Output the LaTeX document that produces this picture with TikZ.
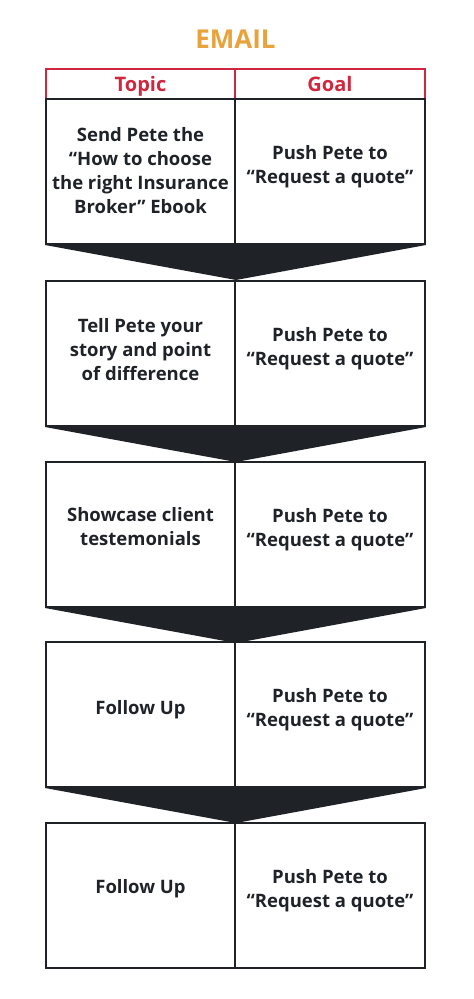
\documentclass[tikz,border=0pt]{standalone}
\usepackage{fontspec}
\setmainfont{Open Sans}
\usetikzlibrary{calc}
\definecolor{mailorange}{HTML}{E8A33D}
\definecolor{headred}{HTML}{D0273E}
\definecolor{inkdark}{HTML}{1F2328}
\tikzset{
  title/.style={font=\fontsize{26}{30}\selectfont\bfseries,text=mailorange},
  head/.style={draw=headred,line width=2pt,text=headred,minimum height=30pt,
    font=\fontsize{20}{24}\selectfont\bfseries,inner sep=0pt,text depth=0pt},
  cell/.style={draw=inkdark,line width=2pt,minimum height=145pt,inner sep=0pt},
  txt/.style={text=inkdark,align=center,inner sep=0pt,
    font=\fontsize{18.5}{24}\selectfont\bfseries},
  funnel/.style={fill=inkdark},
}
\newcommand{\funnel}[2]{% left cell, right cell
  \fill[funnel] (#1.south west) -- (#2.south east) -- ($(#1.south east)+(0,35)$) -- cycle;
}
\begin{document}
\begin{tikzpicture}[x=1pt,y=-1pt]
  \useasboundingbox (0,0) rectangle (474,999);
  \node[title] (email) at (235.5,39) {EMAIL};
  \node[head,minimum width=189pt] (htopic) at (140.5,84) {Topic};
  \node[head,minimum width=190pt] (hgoal) at (330,84) {Goal};
  % rows: number / centre / text shift / topic
  \foreach \i/\y/\dy/\txt in {1/171.5/-1/{Send Pete the\\“How to choose\\the right Insurance\\Broker” Ebook},
                              2/353.5/-4/{Tell Pete your\\story and point\\of difference},
                              3/534.5/-8/{Showcase client\\testemonials},
                              4/714.5/-5/{Follow Up},
                              5/895.5/-7/{Follow Up}} {
    \node[cell,minimum width=189pt] (t\i) at (140.5,\y) {};
    \node[cell,minimum width=190pt] (g\i) at (330,\y) {};
    \node[txt] (tt\i) at ($(t\i)+(0,\dy)$) {\txt};
    \node[txt] (gt\i) at ($(g\i)+(0,-5)$) {Push Pete to\\“Request a quote”};
  }
  \foreach \i in {1,...,4} {\funnel{t\i}{g\i}}
\end{tikzpicture}
\end{document}
